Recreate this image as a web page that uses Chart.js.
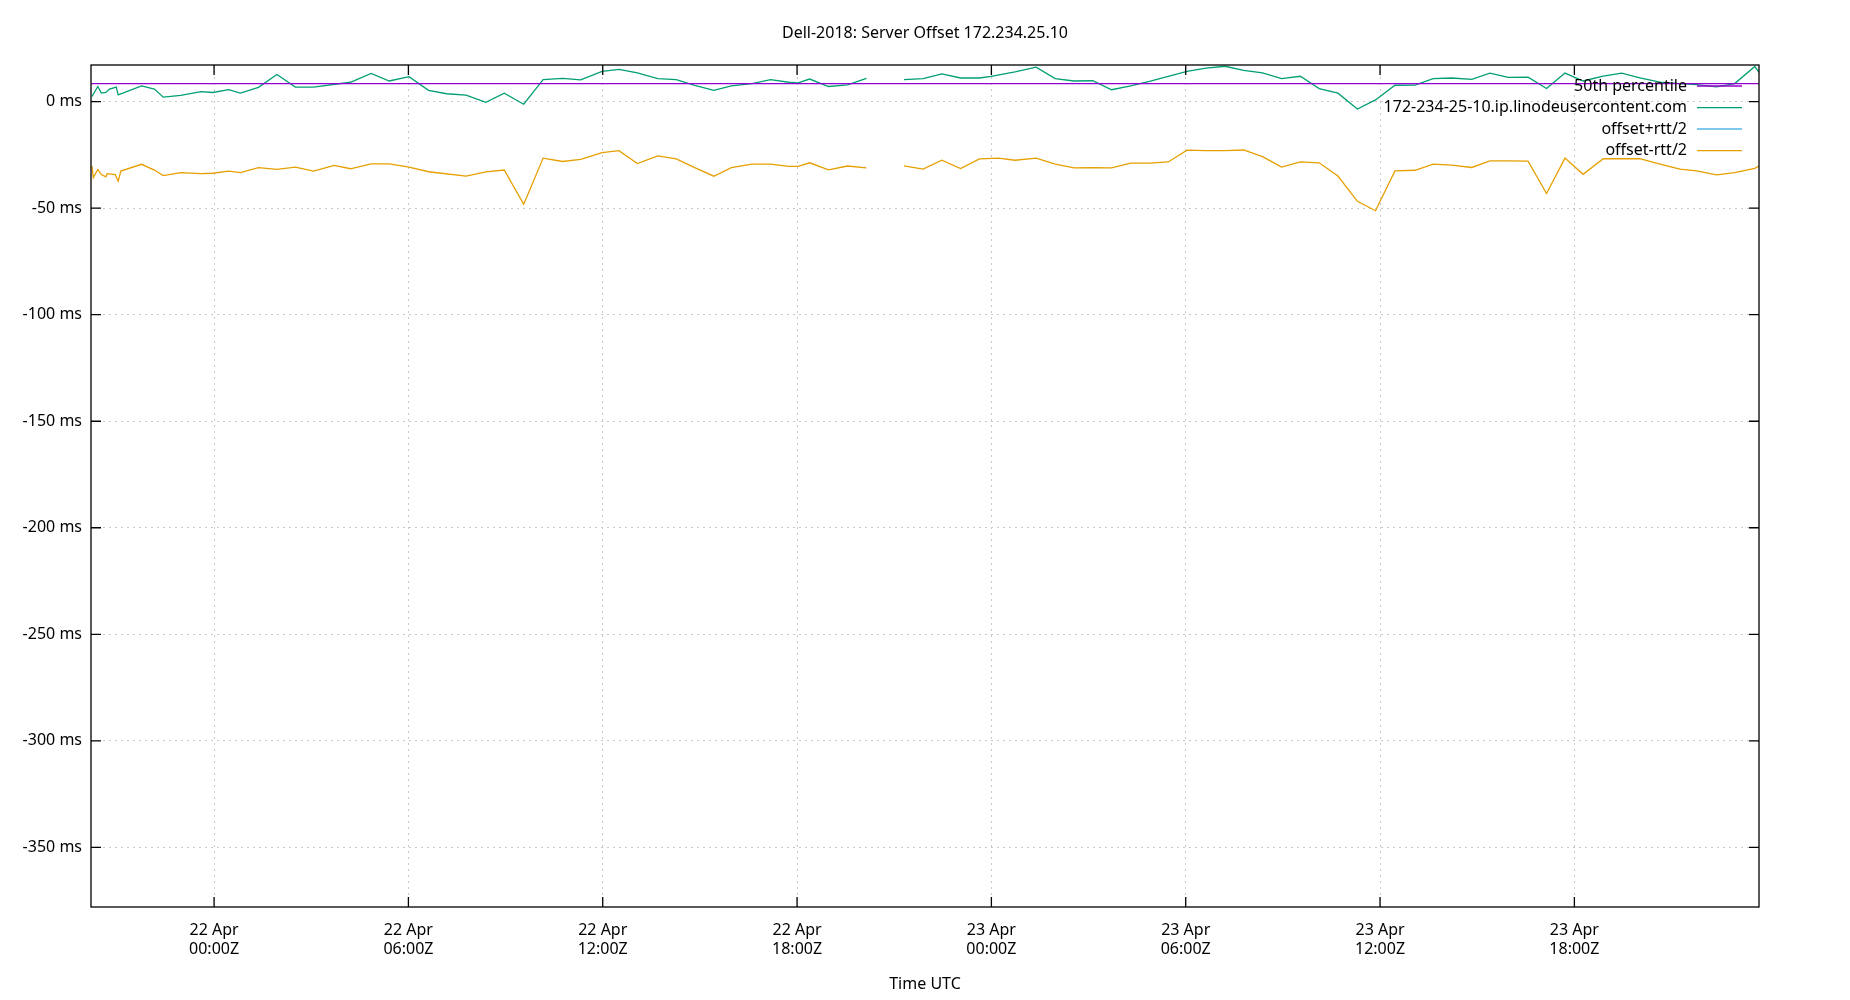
<!DOCTYPE html>
<html><head><meta charset="utf-8">
<script src="https://cdn.jsdelivr.net/npm/chart.js@4/dist/chart.umd.min.js"></script>
<style>html,body{margin:0;padding:0;background:#fff}</style>
</head><body>
<canvas id="c" width="1850" height="1000"></canvas>
<script>
// hours relative to 22 Apr 00:00Z
const offsetHours = [-3.77,-3.59,-3.48,-3.34,-3.23,-3.02,-2.96,-2.24,-1.84,-1.57,-1.03,-0.40,-0.04,0.45,0.81,1.37,1.94,2.51,3.07,4.21,4.85,5.41,6.02,6.62,7.18,7.78,8.39,8.96,9.56,10.16,10.76,11.32,11.98,12.5,13.07,13.70,14.27,14.84,15.43,15.97,16.61,17.18,17.74,18.03,18.39,18.97,19.56,20.14,20.7,21.30,21.89,22.47,23.05,23.63,23.99,24.73,25.38,25.97,26.55,27.13,27.71,28.30,28.88,29.46,30.04,30.63,31.21,31.79,32.37,32.96,33.54,34.12,34.70,35.30,35.86,36.46,37.08,37.64,38.21,38.83,39.39,39.96,40.57,41.14,41.71,42.27,42.89,43.46,44.02,44.64,45.26,45.77,46.39,46.95,47.57,47.70];
const offsetMs = [2.4,7.1,4.0,4.3,5.9,6.8,3.2,7.4,5.9,2.1,2.9,4.7,4.3,5.6,4.0,6.7,12.7,6.8,6.8,9.1,13.2,9.7,11.7,5.3,3.7,3.1,-0.3,4.0,-1.2,10.3,10.9,10.2,14.2,15.1,13.5,10.8,10.3,7.6,5.3,7.4,8.5,10.3,9.1,8.8,10.6,7.1,7.9,10.9,null,10.3,10.8,13.0,11.1,11.1,11.9,14.0,16.2,10.8,9.7,9.8,5.6,7.4,9.5,11.9,14.2,15.7,16.6,14.7,13.5,10.8,11.9,6.1,4.0,-3.5,0.8,7.7,7.8,10.8,11.1,10.5,13.4,11.4,11.5,6.2,13.4,9.7,12.0,13.4,11.2,9.2,8.5,8.0,6.9,8.5,16.5,13.8];
const minusHours = [-3.77,-3.73,-3.59,-3.48,-3.34,-3.30,-3.05,-2.96,-2.88,-2.24,-1.84,-1.57,-1.03,-0.40,-0.04,0.45,0.81,1.37,1.94,2.51,3.07,3.71,4.21,4.85,5.41,6.02,6.62,7.78,8.39,8.96,9.56,10.16,10.76,11.32,11.98,12.5,13.07,13.70,14.27,14.84,15.43,15.97,16.61,17.18,17.74,18.03,18.39,18.97,19.56,20.14,20.7,21.30,21.89,22.47,23.05,23.63,24.22,24.73,25.38,25.97,26.55,27.13,27.71,28.30,28.88,29.46,30.04,30.63,31.21,31.79,32.37,32.96,33.54,34.12,34.70,35.30,35.86,36.46,37.08,37.64,38.21,38.83,39.39,39.96,40.57,41.14,41.71,42.27,42.89,43.46,44.02,44.64,45.26,45.77,46.39,46.95,47.57,47.70];
const minusMs = [-30.2,-35.7,-31.8,-34.2,-35.3,-33.8,-34.2,-37.4,-32.6,-29.4,-32.1,-34.7,-33.3,-33.8,-33.6,-32.6,-33.3,-31.0,-31.8,-30.7,-32.6,-29.9,-31.5,-29.2,-29.2,-30.7,-32.9,-35.0,-33.0,-32.1,-48.2,-26.5,-28.1,-27.1,-23.9,-23.0,-29.1,-25.5,-26.9,-31.0,-35.0,-31.0,-29.3,-29.3,-30.4,-30.4,-28.7,-32.0,-30.2,-31.1,null,-30.1,-31.7,-27.5,-31.4,-26.9,-26.5,-27.5,-26.5,-29.3,-31.1,-31.0,-31.1,-28.9,-28.9,-28.3,-22.8,-23.0,-23.0,-22.7,-25.8,-30.7,-28.3,-28.7,-34.9,-46.8,-51.2,-32.5,-32.2,-29.3,-29.8,-30.9,-27.8,-27.8,-27.9,-43.1,-26.5,-34.1,-26.8,-26.8,-26.8,-29.3,-31.7,-32.5,-34.4,-33.3,-31.3,-30.2];
const percentile50 = 8.5;
const xTickHours = [0,6,12,18,24,30,36,42];
const xTickLabels = [["22 Apr","00:00Z"],["22 Apr","06:00Z"],["22 Apr","12:00Z"],["22 Apr","18:00Z"],["23 Apr","00:00Z"],["23 Apr","06:00Z"],["23 Apr","12:00Z"],["23 Apr","18:00Z"]];
const yTicks = [-350,-300,-250,-200,-150,-100,-50,0];
const xMin = -3.8, xMax = 47.7, yMin = -378, yMax = 17.2;
const seriesNames = ["50th percentile","172-234-25-10.ip.linodeusercontent.com","offset+rtt/2","offset-rtt/2"];
const seriesColors = ["#9400d3","#009e73","#56b4e9","#e69f00"];

const FONT = '"Noto Sans", sans-serif';
const toPts = (xs, ys) => xs.map((x,i)=>({x:x, y:ys[i]}));

const framePlugin = {
  id:'frame',
  afterDraw(chart){
    const {ctx, chartArea:a, scales:{x,y}} = chart;
    ctx.save();
    ctx.strokeStyle='#000'; ctx.lineWidth=1.3;
    ctx.strokeRect(a.left, a.top, a.right-a.left, a.bottom-a.top);
    ctx.beginPath();
    xTickHours.forEach(h=>{const px=x.getPixelForValue(h); ctx.moveTo(px,a.top); ctx.lineTo(px,a.top+10); ctx.moveTo(px,a.bottom); ctx.lineTo(px,a.bottom-10);});
    yTicks.forEach(v=>{const py=y.getPixelForValue(v); ctx.moveTo(a.left,py); ctx.lineTo(a.left+10,py); ctx.moveTo(a.right,py); ctx.lineTo(a.right-10,py);});
    ctx.stroke();
    ctx.fillStyle='#000'; ctx.font='16px '+FONT; ctx.textAlign='center'; ctx.textBaseline='middle';
    ctx.fillText('Dell-2018: Server Offset 172.234.25.10',(a.left+a.right)/2,33);
    ctx.textAlign='right';
    const rows=[86,107.7,129,150.7];
    seriesNames.forEach((n,i)=>{
      ctx.fillStyle='#000'; ctx.fillText(n,1687,rows[i]);
      ctx.strokeStyle=seriesColors[i]; ctx.lineWidth=1.3;
      ctx.beginPath(); ctx.moveTo(1697,rows[i]); ctx.lineTo(1742,rows[i]); ctx.stroke();
    });
    ctx.restore();
  }
};

new Chart(document.getElementById('c'), {
  type:'line',
  data:{datasets:[
    {label:seriesNames[0], data:[{x:xMin,y:percentile50},{x:xMax,y:percentile50}], borderColor:seriesColors[0], borderWidth:1.3, pointRadius:0},
    {label:seriesNames[1], data:toPts(offsetHours,offsetMs), borderColor:seriesColors[1], borderWidth:1.3, pointRadius:0, spanGaps:false},
    {label:seriesNames[2], data:[], borderColor:seriesColors[2], borderWidth:1.3, pointRadius:0},
    {label:seriesNames[3], data:toPts(minusHours,minusMs), borderColor:seriesColors[3], borderWidth:1.3, pointRadius:0, spanGaps:false}
  ]},
  options:{
    responsive:false, animation:false,
    layout:{padding:{top:65,right:91,left:0,bottom:0}},
    plugins:{legend:{display:false}, title:{display:false}, tooltip:{enabled:false}},
    scales:{
      x:{type:'linear', min:xMin, max:xMax,
        afterBuildTicks(s){ s.ticks = xTickHours.map(v=>({value:v})); },
        afterFit(s){ s.height = 93; },
        ticks:{color:'#000', font:{family:FONT,size:16}, maxRotation:0, padding:14,
          callback:(v)=>{const i=xTickHours.indexOf(v); return i>=0?xTickLabels[i]:'';}},
        grid:{color:'#c8c8c8', drawTicks:false, tickLength:0},
        border:{display:false, dash:[2,4]},
        title:{display:true, text:'Time UTC', color:'#000', font:{family:FONT,size:16}, padding:{top:4,bottom:6}}
      },
      y:{type:'linear', min:yMin, max:yMax,
        afterBuildTicks(s){ s.ticks = yTicks.map(v=>({value:v})); },
        afterFit(s){ s.width = 91; },
        ticks:{color:'#000', font:{family:FONT,size:16}, padding:9, callback:(v)=>v+' ms'},
        grid:{color:'#c8c8c8', drawTicks:false, tickLength:0},
        border:{display:false, dash:[2,4]}
      }
    }
  },
  plugins:[framePlugin]
});
</script>
</body></html>
